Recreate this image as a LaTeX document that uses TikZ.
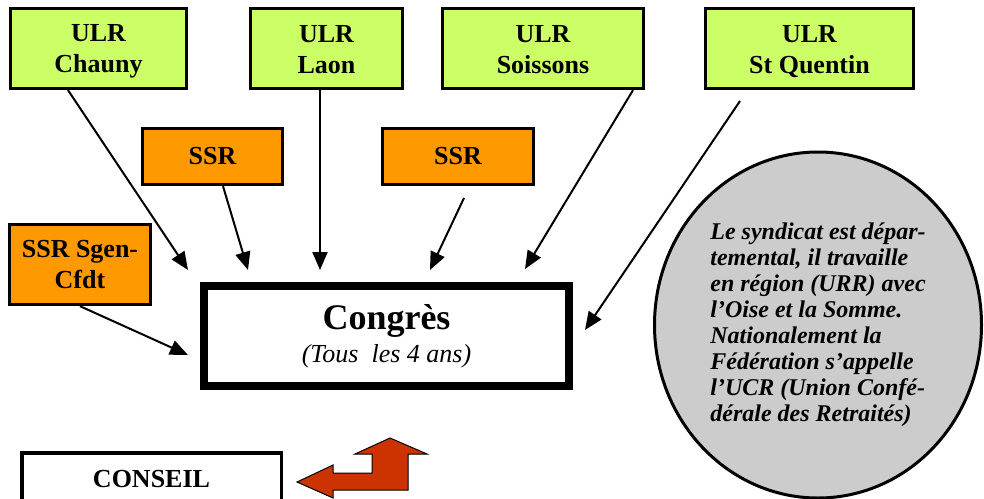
\documentclass[tikz,border=0pt]{standalone}
\usepackage{fontspec}
\setmainfont{Liberation Serif}
\usetikzlibrary{arrows.meta,shapes.geometric}
\definecolor{ulrgreen}{HTML}{CCFF66}
\definecolor{ssrorange}{HTML}{FF9900}
\definecolor{notegrey}{HTML}{CCCCCC}
\definecolor{arrowred}{HTML}{CC3300}
\newcommand{\ulrtop}{\rule{0pt}{23.6pt}}
\newcommand{\ulrbot}{\rule[-5.6pt]{0pt}{5.6pt}}
\begin{document}
\begin{tikzpicture}[x=1pt,y=-1pt,
  ulrbox/.style={draw=black, line width=3.3pt, fill=ulrgreen, inner sep=0pt,
    minimum height=80pt, align=center, font=\bfseries\fontsize{26}{31}\selectfont},
  ssrbox/.style={draw=black, line width=3.3pt, fill=ssrorange, inner sep=0pt,
    align=center, font=\bfseries\fontsize{26}{31}\selectfont},
  conn/.style={line width=2pt, -{Triangle[length=18pt,width=15pt]}},
  bigbox/.style={draw=black, line width=8pt, fill=white, inner sep=0pt, align=center},
  notecircle/.style={ellipse, draw=black, line width=3pt, fill=notegrey, inner sep=0pt,
    align=left, font=\bfseries\itshape\fontsize{24}{26}\selectfont},
  conseilbox/.style={draw=black, line width=3.5pt, fill=white, inner sep=0pt,
    font=\bfseries\fontsize{26}{31}\selectfont},
  bentarrow/.style={draw=black, line width=1pt, fill=arrowred, line join=miter}
]
\useasboundingbox (0,0) rectangle (984,498);
\fill[white] (0,0) rectangle (984,498);
\begin{scope}
\clip (0,0) rectangle (984,498);

% ULR boxes
\node[ulrbox, minimum width=176pt] (chauny) at (98.5,48.5) {\ulrtop ULR\\Chauny\ulrbot};
\node[ulrbox, minimum width=152pt] (laon) at (326.5,48.5) {\ulrtop ULR\\Laon\ulrbot};
\node[ulrbox, minimum width=201pt] (soissons) at (543,48.5) {\ulrtop ULR\\Soissons\ulrbot};
\node[ulrbox, minimum width=208pt] (stquentin) at (809.5,48.5) {\ulrtop ULR\\St Quentin\ulrbot};

% SSR boxes
\node[ssrbox, minimum width=140pt, minimum height=56pt] (ssra) at (212.5,156.5) {SSR};
\node[ssrbox, minimum width=151pt, minimum height=56pt] (ssrb) at (458,156.5) {SSR};
\node[ssrbox, minimum width=141pt, minimum height=80pt] (sgen) at (80,264.5) {SSR Sgen-\\Cfdt};

% Congres
\node[bigbox, minimum width=365pt, minimum height=100pt, font=\fontsize{26}{33}\selectfont] (congres) at (386.5,336)
  {{\bfseries\fontsize{36}{40}\selectfont Congrès}\\{\itshape (Tous\ \ les 4 ans)}};

% note ellipse
\node[notecircle, minimum width=327pt, minimum height=346pt] (note) at (818,325)
  {Le syndicat est dépar-\\temental, il travaille\\en région (URR) avec\\l’Oise et la Somme.\\Nationalement la\\Fédération s’appelle\\l’UCR (Union Confé-\\dérale des Retraités)};

% Conseil
\node[conseilbox, anchor=base, minimum width=259.5pt, minimum height=77.25pt, text depth=26pt] (conseil) at (151.5,487) {CONSEIL};

% connector free ends
\coordinate (tA) at (188,270);
\coordinate (tB) at (248,270);
\coordinate (tC) at (320,270);
\coordinate (tD) at (430,270);
\coordinate (tE) at (525,269);
\coordinate (tF) at (585,330);
\coordinate (tG) at (188,355);
\coordinate (sD) at (464,198);
\coordinate (sF) at (740,101);

\draw[conn] (68,0 |- chauny.south) -- (tA);
\draw[conn] (223,0 |- ssra.south) -- (tB);
\draw[conn] (320,0 |- laon.south) -- (tC);
\draw[conn] (sD) -- (tD);
\draw[conn] (633,0 |- soissons.south) -- (tE);
\draw[conn] (sF) -- (tF);
\draw[conn] (80,0 |- sgen.south) -- (tG);

% bent red arrow
\draw[bentarrow] (297,482) -- (333,465) -- (333,473) -- (372,473) -- (372,454) -- (355,454)
  -- (390,438) -- (427,454) -- (408,454) -- (408,490) -- (333,490) -- (333,498) -- cycle;
\end{scope}
\end{tikzpicture}
\end{document}
